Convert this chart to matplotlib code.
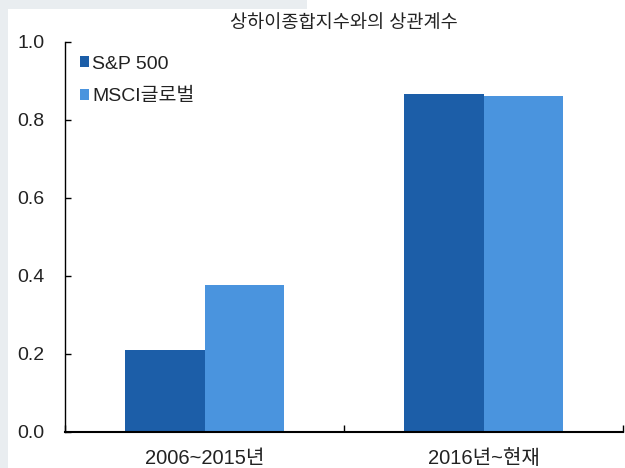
import numpy as np
import matplotlib.pyplot as plt
from matplotlib.patches import Rectangle

plt.rcParams['font.family'] = ['Liberation Sans', 'Noto Sans CJK KR']

categories = ['2006~2015년', '2016년~현재']
series_names = ['S&P 500', 'MSCI글로벌']
sp500 = [0.21, 0.867]
msci = [0.377, 0.862]
colors = ['#1c5ea8', '#4a94de']

fig = plt.figure(figsize=(6.25, 4.68), dpi=100, facecolor='white')
# light gray page edge (left strip and top strip)
fig.patches.append(Rectangle((0, 0), 8 / 625, 1, transform=fig.transFigure,
                             facecolor='#e9edf0', edgecolor='none', zorder=0))
fig.patches.append(Rectangle((0, 459 / 468), 307 / 625, 9 / 468, transform=fig.transFigure,
                             facecolor='#e9edf0', edgecolor='none', zorder=0))

ax = fig.add_axes([65 / 625, 36 / 468, 558 / 625, 390 / 468])
x = np.arange(len(categories))
w = 0.286
ax.bar(x - w / 2, sp500, w, color=colors[0], label=series_names[0])
ax.bar(x + w / 2, msci, w, color=colors[1], label=series_names[1])

ax.set_xlim(-0.5, 1.5)
ax.set_ylim(0, 1.0)
ax.set_yticks(np.arange(0, 1.01, 0.2))
ax.set_yticklabels([f'{v:.1f}' for v in np.arange(0, 1.01, 0.2)])
ax.set_xticks(x)
ax.set_xticklabels(categories)
ax.set_xticks([-0.5, 0.5, 1.5], minor=True)
ax.tick_params(axis='x', which='major', length=0, pad=12, labelsize=14.5, colors='#222222')
ax.tick_params(axis='x', which='minor', direction='in', length=5, width=1)
ax.tick_params(axis='y', direction='in', length=4, width=1, pad=15, labelsize=14, labelcolor='#222222')
ax.spines['top'].set_visible(False)
ax.spines['right'].set_visible(False)
ax.spines['left'].set_linewidth(1)
ax.spines['bottom'].set_linewidth(1.5)

ax.set_title('상하이종합지수와의 상관계수', fontsize=13.4, pad=10, color='#222222')
ax.legend(loc='upper left', bbox_to_anchor=(-0.005, 1.01), frameon=False, fontsize=14,
          handlelength=0.5, handleheight=0.5, handletextpad=0.15, labelspacing=0.8,
          labelcolor='#222222')

fig.savefig('out.png', dpi=100)
